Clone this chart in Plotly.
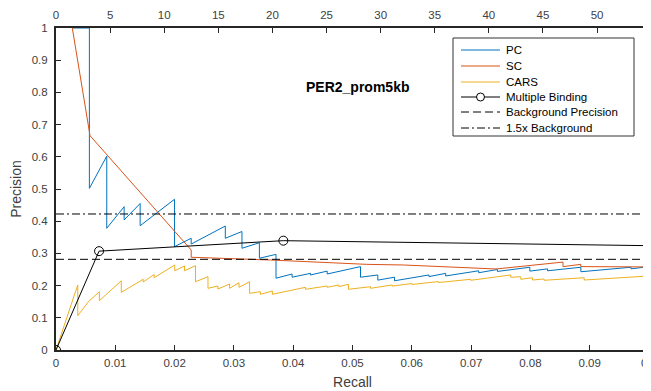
import plotly.graph_objects as go

# ---------------- data ----------------
pc_recall = [0.00287, 0.00563, 0.00563, 0.00856, 0.00856, 0.01149, 0.01149, 0.01419, 0.01419,
             0.01998, 0.01998, 0.0228, 0.0228, 0.02855, 0.02855, 0.03136, 0.03136, 0.0343, 0.0343,
             0.0371, 0.0371, 0.03981, 0.03981, 0.04291, 0.04291, 0.04573, 0.04573, 0.05135, 0.05135,
             0.05427, 0.05427, 0.05709, 0.05709, 0.06289, 0.06289, 0.06571, 0.06571, 0.07128, 0.07128,
             0.07444, 0.07444, 0.0799, 0.0799, 0.08289, 0.08289, 0.08851, 0.08851, 0.09696, 0.09696, 0.1]
pc_precision = [1.0, 1.0, 0.502, 0.602, 0.378, 0.445, 0.404, 0.455, 0.386,
                0.468, 0.321, 0.347, 0.329, 0.385, 0.347, 0.368, 0.316, 0.333, 0.285,
                0.297, 0.223, 0.236, 0.226, 0.238, 0.233, 0.245, 0.236, 0.259, 0.226,
                0.233, 0.217, 0.226, 0.215, 0.233, 0.228, 0.238, 0.230, 0.246, 0.240,
                0.250, 0.244, 0.257, 0.245, 0.252, 0.246, 0.257, 0.243, 0.257, 0.252, 0.259]

sc_recall = [0.00275, 0.00574, 0.0228, 0.0228, 0.03615, 0.0524, 0.0586, 0.0742, 0.0855, 0.0855,
             0.0885, 0.0885, 0.1]
sc_precision = [1.0, 0.6655, 0.3106, 0.288, 0.2795, 0.266, 0.264, 0.2516, 0.273, 0.259,
                0.266, 0.259, 0.258]

cars_recall = [0.0, 0.00367, 0.00367, 0.00546, 0.00731, 0.00731, 0.01101, 0.01101, 0.0147, 0.0147,
               0.01655, 0.01655, 0.02002, 0.02002, 0.02167, 0.02167, 0.02353, 0.02353, 0.02563, 0.02563,
               0.02731, 0.02731, 0.02927, 0.02927, 0.03086, 0.03086, 0.03265, 0.03265, 0.03446, 0.03446,
               0.03649, 0.03649, 0.04206, 0.04206, 0.04573, 0.04573, 0.04769, 0.04769, 0.04932, 0.04932,
               0.05304, 0.05304, 0.05671, 0.05671, 0.0600, 0.0600, 0.0645, 0.0645, 0.06993, 0.06993,
               0.07669, 0.07669, 0.07838, 0.07838, 0.08035, 0.08035, 0.08231, 0.08231, 0.08907, 0.08907, 0.1]
cars_precision = [0.0, 0.202, 0.1066, 0.150, 0.181, 0.153, 0.215, 0.179, 0.2196, 0.211,
                  0.2345, 0.2245, 0.264, 0.246, 0.261, 0.246, 0.262, 0.212, 0.2276, 0.1916,
                  0.1988, 0.1894, 0.205, 0.1916, 0.209, 0.1947, 0.212, 0.176, 0.181, 0.173,
                  0.183, 0.173, 0.1947, 0.1885, 0.1988, 0.1947, 0.2019, 0.197, 0.204, 0.1885,
                  0.1966, 0.1916, 0.2019, 0.1985, 0.2065, 0.2035, 0.2125, 0.2095, 0.2196, 0.2165,
                  0.233, 0.2258, 0.2276, 0.2196, 0.2245, 0.2174, 0.2205, 0.2165, 0.2245, 0.2174, 0.2298]

mb_recall = [0.0, 0.00726, 0.03834, 0.12]
mb_precision = [0.0, 0.307, 0.3395, 0.319]

background_precision = 0.2816
background_factor = 1.5

recall_range = [0.0, 0.1]
top_range = [0.0, 54.8]

x_tickvals = [0, 0.01, 0.02, 0.03, 0.04, 0.05, 0.06, 0.07, 0.08, 0.09, 0.1]
x_ticktext = ["0", "0.01", "0.02", "0.03", "0.04", "0.05", "0.06", "0.07", "0.08", "0.09", "0.1"]
y_tickvals = [0, 0.1, 0.2, 0.3, 0.4, 0.5, 0.6, 0.7, 0.8, 0.9, 1]
y_ticktext = ["0", "0.1", "0.2", "0.3", "0.4", "0.5", "0.6", "0.7", "0.8", "0.9", "1"]
top_tickvals = [0, 5, 10, 15, 20, 25, 30, 35, 40, 45, 50]
top_ticktext = ["0", "5", "10", "15", "20", "25", "30", "35", "40", "45", "50"]

series_names = ["PC", "SC", "CARS", "Multiple Binding", "Background Precision", "1.5x Background"]
title_text = "PER2_prom5kb"

# ---------------- styling ----------------
FONT = "Liberation Sans, Arial, Helvetica, sans-serif"
AX = "#262626"
TXT = "#404040"
COLORS = ["#0072BD", "#D95319", "#EDB120", "black", "black", "black"]
DASHES = ["solid", "solid", "solid", "solid", "8px,4px", "8px,3px,2px,3px"]

# The page body adds an 8px offset, so the figure is sized to fill the rest of the window.
OFF = 8
W, H = 651 - OFF, 391 - OFF
ML, MR, MT, MB = 56 - OFF, 2, 28 - OFF, 41
PW, PH = W - ML - MR, H - MT - MB


def pxx(px):
    """window pixel x -> paper x"""
    return (px - OFF - ML) / PW


def pxy(py):
    """window pixel y -> paper y"""
    return (H - MB - (py - OFF)) / PH


fig = go.Figure()
fig.add_trace(go.Scatter(x=pc_recall, y=pc_precision, mode="lines", name=series_names[0],
                         line=dict(color=COLORS[0], width=1)))
fig.add_trace(go.Scatter(x=sc_recall, y=sc_precision, mode="lines", name=series_names[1],
                         line=dict(color=COLORS[1], width=1)))
fig.add_trace(go.Scatter(x=cars_recall, y=cars_precision, mode="lines", name=series_names[2],
                         line=dict(color=COLORS[2], width=1)))
fig.add_trace(go.Scatter(x=mb_recall, y=mb_precision, mode="lines+markers", name=series_names[3],
                         line=dict(color=COLORS[3], width=1),
                         marker=dict(symbol="circle-open", size=9, color="black",
                                     line=dict(width=1, color="black"))))
fig.add_trace(go.Scatter(x=recall_range, y=[background_precision] * 2, mode="lines",
                         name=series_names[4],
                         line=dict(color=COLORS[4], width=1, dash=DASHES[4])))
fig.add_trace(go.Scatter(x=recall_range, y=[background_precision * background_factor] * 2,
                         mode="lines", name=series_names[5],
                         line=dict(color=COLORS[5], width=1, dash=DASHES[5])))
# anchor trace for the top axis
fig.add_trace(go.Scatter(x=[], y=[], xaxis="x2", yaxis="y", showlegend=False, hoverinfo="skip"))

fig.add_annotation(x=pxx(358), y=pxy(87), xref="paper", yref="paper", text="<b>" + title_text + "</b>",
                   xanchor="center", yanchor="middle",
                   showarrow=False, font=dict(family=FONT, size=14, color="black"))

# ---------------- legend box (drawn to match the reference's compact spacing) ----------------
shapes = [dict(type="rect", xref="paper", yref="paper", x0=pxx(453), x1=pxx(634), y0=pxy(38), y1=pxy(136),
               line=dict(color="#333333", width=1), fillcolor="white", layer="above")]
item_y = [50, 66, 82, 97, 112, 128]
for name, col, dsh, iy in zip(series_names, COLORS, DASHES, item_y):
    shapes.append(dict(type="line", xref="paper", yref="paper", x0=pxx(461), x1=pxx(500),
                       y0=pxy(iy), y1=pxy(iy), line=dict(color=col, width=1, dash=dsh), layer="above"))
    fig.add_annotation(x=pxx(504), y=pxy(iy), xref="paper", yref="paper", text=name,
                       xanchor="left", yanchor="middle", showarrow=False,
                       font=dict(family=FONT, size=11.5, color="black"))
shapes.append(dict(type="circle", xref="paper", yref="paper", xsizemode="pixel", ysizemode="pixel",
                   xanchor=pxx(480.5), yanchor=pxy(item_y[3]), x0=-4, x1=4, y0=-4, y1=4,
                   line=dict(color="black", width=1), fillcolor="white", layer="above"))

fig.update_layout(
    width=W, height=H,
    margin=dict(l=ML, r=MR, t=MT, b=MB, autoexpand=False),
    paper_bgcolor="white", plot_bgcolor="white",
    font=dict(family=FONT, size=11, color=TXT),
    showlegend=False,
    shapes=shapes,
    xaxis=dict(range=[recall_range[0], recall_range[1] * 1.00001], tickvals=x_tickvals, ticktext=x_ticktext,
               ticks="inside", ticklen=5, tickcolor=AX, tickwidth=1, ticklabeloverflow="allow",
               showline=True, linecolor=AX, linewidth=2, mirror=False,
               showgrid=False, zeroline=False, automargin=False, ticklabelstandoff=1,
               title=dict(text="Recall", font=dict(size=14, color=TXT), standoff=9),
               tickfont=dict(size=11.5, color=TXT)),
    xaxis2=dict(range=top_range, overlaying="x", side="top", anchor="y",
                tickvals=top_tickvals, ticktext=top_ticktext,
                ticks="inside", ticklen=5, tickcolor=AX, tickwidth=1,
                showline=True, linecolor=AX, linewidth=2, automargin=False, ticklabelstandoff=2,
                showgrid=False, zeroline=False,
                tickfont=dict(size=11.5, color=TXT)),
    yaxis=dict(range=[0, 1], tickvals=y_tickvals, ticktext=y_ticktext,
               ticks="inside", ticklen=5, tickcolor=AX, tickwidth=1,
               showline=True, linecolor=AX, linewidth=2, mirror="ticks",
               showgrid=False, zeroline=False, automargin=False, ticklabelstandoff=4,
               title=dict(text="Precision", font=dict(size=14, color=TXT), standoff=10),
               tickfont=dict(size=11.5, color=TXT)),
)

fig.write_html("out.html")
